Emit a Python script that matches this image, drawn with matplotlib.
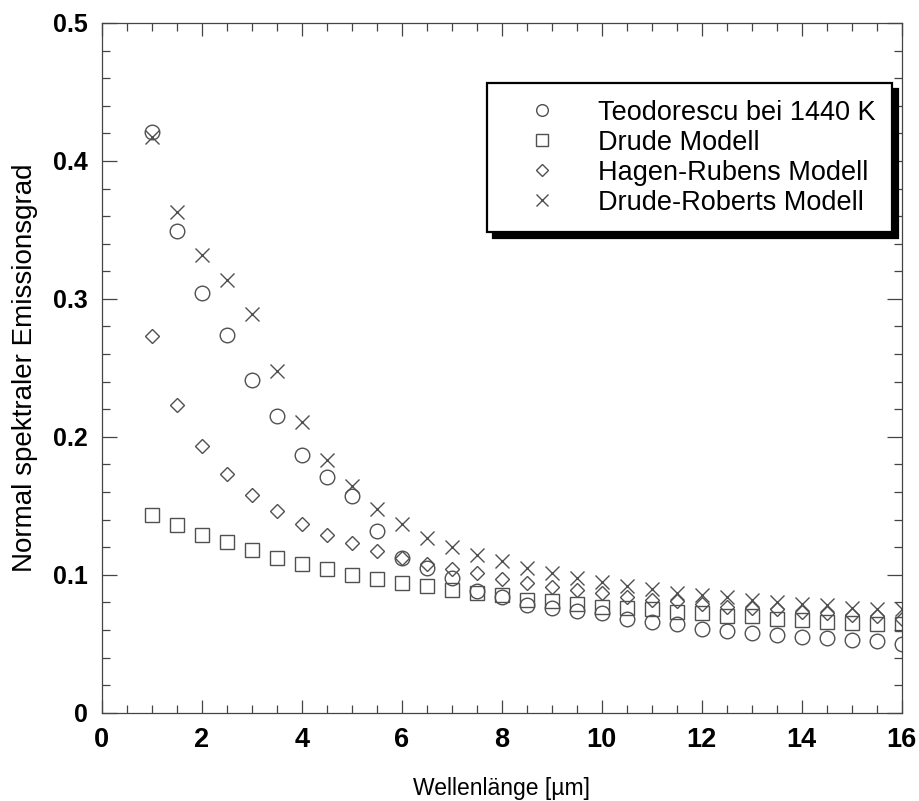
import matplotlib as mpl
import matplotlib.pyplot as plt
from matplotlib.ticker import MultipleLocator

mpl.rcParams['font.family'] = ['Liberation Sans', 'DejaVu Sans']
mpl.rcParams['axes.linewidth'] = 0.9
mpl.rcParams['axes.edgecolor'] = '#444444'

# wavelength in micrometres
wavelength = [1.0, 1.5, 2.0, 2.5, 3.0, 3.5, 4.0, 4.5, 5.0, 5.5, 6.0, 6.5, 7.0, 7.5, 8.0,
              8.5, 9.0, 9.5, 10.0, 10.5, 11.0, 11.5, 12.0, 12.5, 13.0, 13.5, 14.0,
              14.5, 15.0, 15.5, 16.0]

teodorescu = [0.421, 0.349, 0.304, 0.274, 0.241, 0.215, 0.187, 0.171, 0.157, 0.132,
              0.112, 0.105, 0.098, 0.088, 0.084, 0.078, 0.076, 0.074, 0.072, 0.068,
              0.066, 0.064, 0.061, 0.059, 0.058, 0.056, 0.055, 0.054, 0.053, 0.052,
              0.050]
drude = [0.143, 0.136, 0.129, 0.124, 0.118, 0.112, 0.108, 0.104, 0.100, 0.097,
         0.094, 0.092, 0.089, 0.087, 0.085, 0.082, 0.081, 0.079, 0.077, 0.076,
         0.075, 0.073, 0.072, 0.070, 0.070, 0.068, 0.067, 0.066, 0.065, 0.064,
         0.064]
hagen_rubens = [0.273, 0.223, 0.193, 0.173, 0.158, 0.146, 0.137, 0.129, 0.123, 0.117,
                0.112, 0.108, 0.104, 0.101, 0.097, 0.094, 0.091, 0.089, 0.087, 0.084,
                0.082, 0.081, 0.079, 0.077, 0.076, 0.075, 0.073, 0.072, 0.071, 0.070,
                0.068]
drude_roberts = [0.417, 0.363, 0.332, 0.314, 0.289, 0.248, 0.211, 0.183, 0.164, 0.148,
                 0.137, 0.127, 0.120, 0.114, 0.110, 0.105, 0.101, 0.098, 0.095, 0.092,
                 0.090, 0.087, 0.085, 0.084, 0.082, 0.080, 0.079, 0.078, 0.076, 0.075,
                 0.075]

series = [
    (teodorescu, 'o', 10.5, 'Teodorescu bei 1440 K'),
    (drude, 's', 10.5, 'Drude Modell'),
    (hagen_rubens, 'D', 7.5, 'Hagen-Rubens Modell'),
    (drude_roberts, 'x', 10.5, 'Drude-Roberts Modell'),
]

marker_color = '#505050'

fig = plt.figure(figsize=(9.2, 8.01), dpi=100)
ax = fig.add_axes([0.1105, 0.1102, 0.8696, 0.8611])

for values, marker, size, label in series:
    ax.plot(wavelength, values, ls='', marker=marker, ms=size, mfc='none',
            mec=marker_color, mew=1.0, label=label)

ax.set_xlim(0, 16)
ax.set_ylim(0, 0.5)
ax.xaxis.set_major_locator(MultipleLocator(2))
ax.xaxis.set_minor_locator(MultipleLocator(0.5))
ax.yaxis.set_major_locator(MultipleLocator(0.1))
ax.yaxis.set_minor_locator(MultipleLocator(0.02))

ax.tick_params(which='both', direction='in', top=True, right=True,
               color='#444444', width=0.9)
ax.tick_params(axis='x', which='major', length=9.5, pad=10)
ax.tick_params(axis='y', which='major', length=11, pad=10)
ax.tick_params(which='minor', length=5.5)

ax.set_xticks([0, 2, 4, 6, 8, 10, 12, 14, 16])
ax.set_xticklabels(['0', '2', '4', '6', '8', '10', '12', '14', '16'],
                   family=['Liberation Sans Narrow', 'Liberation Sans'],
                   fontweight='bold', fontsize=19.5)
ax.set_yticks([0, 0.1, 0.2, 0.3, 0.4, 0.5])
ax.set_yticklabels(['0', '0.1', '0.2', '0.3', '0.4', '0.5'],
                   fontweight='bold', fontsize=18)

ax.set_xlabel('Wellenlänge [µm]', fontsize=16.5)
ax.set_ylabel('Normal spektraler Emissionsgrad', fontsize=20)
ax.xaxis.set_label_coords(0.5, -0.093)
ax.yaxis.set_label_coords(-0.08, 0.5)

leg = ax.legend(loc='upper right', bbox_to_anchor=(0.9875, 0.9126),
                fontsize=19.5, markerscale=0.8, frameon=True, fancybox=False,
                borderpad=0.6, labelspacing=0.15, handlelength=2.9,
                handletextpad=0.6, borderaxespad=0,
                shadow={'ox': 4.3, 'oy': -4.3, 'color': 'black', 'alpha': 1})
leg.get_frame().set_edgecolor('black')
leg.get_frame().set_linewidth(1.6)
leg.get_frame().set_alpha(1)

fig.savefig('out.png', dpi=100)
